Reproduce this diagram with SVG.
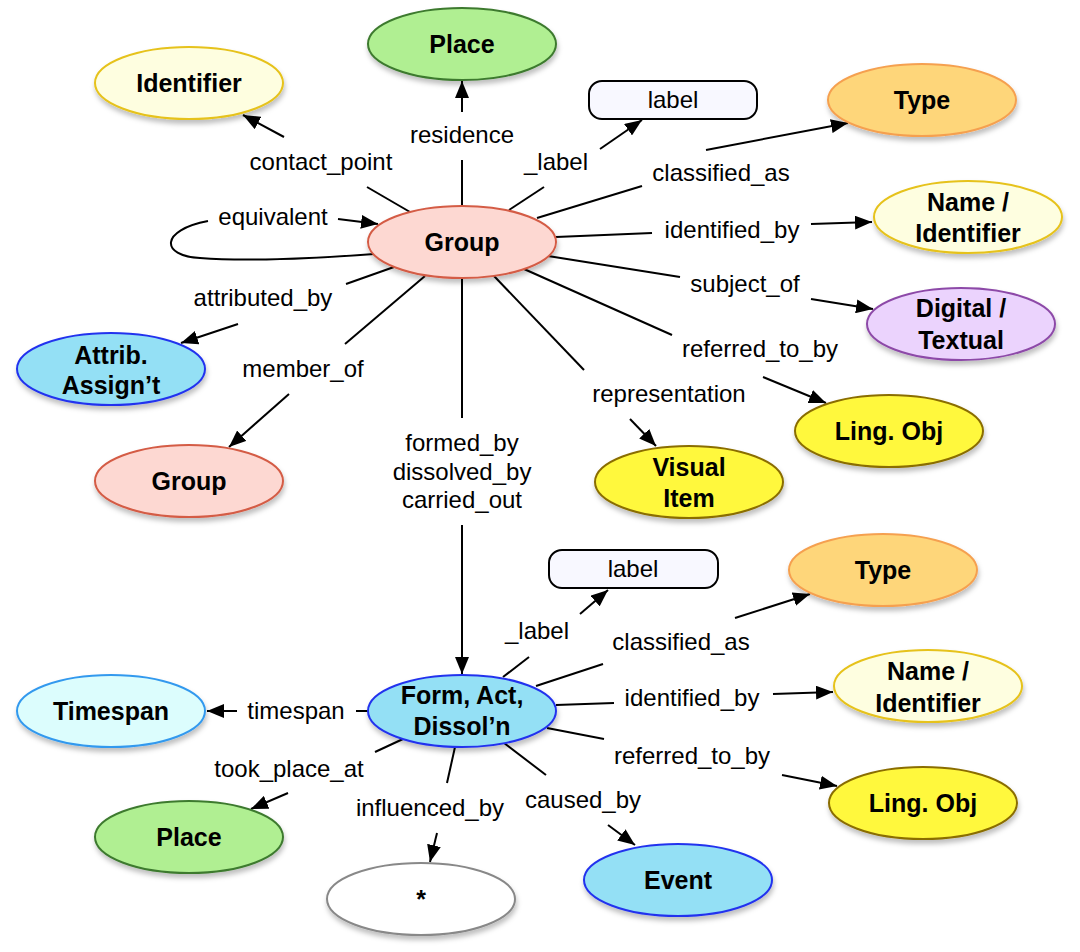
<svg xmlns="http://www.w3.org/2000/svg" width="1080" height="952" viewBox="0 0 1080 952">
<defs>
<filter id="sh" x="-20%" y="-20%" width="140%" height="160%">
<feDropShadow dx="1" dy="4" stdDeviation="2.5" flood-color="#000" flood-opacity="0.25"/>
</filter>
<marker id="ah" markerUnits="userSpaceOnUse" markerWidth="18" markerHeight="14" refX="17" refY="7" orient="auto">
<path d="M0,0 L17,7 L0,14 z" fill="#000"/>
</marker>
</defs>
<style>
.n{stroke-width:2;filter:url(#sh)}
.nt{font-family:"Liberation Sans",Arial,sans-serif;font-weight:bold;font-size:25px;text-anchor:middle;fill:#000}
.et{font-family:"Liberation Sans",Arial,sans-serif;font-size:24px;text-anchor:middle;fill:#000}
.ln{stroke:#000;stroke-width:2;fill:none}
.ar{stroke:#000;stroke-width:2;fill:none;marker-end:url(#ah)}
.grp{fill:#fdd8d2;stroke:#d45b45}
.plc{fill:#b0ef92;stroke:#3d7a2f}
.idn{fill:#fefee0;stroke:#e6c21a}
.typ{fill:#fed67a;stroke:#f5a050}
.dig{fill:#ebd3fd;stroke:#8d4aa8}
.lng{fill:#fff83d;stroke:#8a6d00}
.evt{fill:#94e0f5;stroke:#2233ee}
.tsp{fill:#dcfdfd;stroke:#3399ee}
.any{fill:#fff;stroke:#888}
.lbl{fill:#f8f8ff;stroke:#000;stroke-width:2}
</style>
<rect width="1080" height="952" fill="#fff"/>

<g id="connectors">
<!-- residence -->
<line class="ln" x1="462" y1="206" x2="462" y2="160"/>
<text class="et" x="462" y="143">residence</text>
<line class="ar" x1="462" y1="112" x2="462" y2="81"/>
<!-- contact_point -->
<line class="ln" x1="410" y1="212" x2="367" y2="187"/>
<text class="et" x="321" y="170">contact_point</text>
<line class="ar" x1="284" y1="137" x2="243" y2="115"/>
<!-- equivalent -->
<path class="ln" d="M208,221 C160,230 160,256 200,258 C250,262 320,258 374,254"/>
<text class="et" x="273" y="225">equivalent</text>
<line class="ar" x1="338" y1="219" x2="378" y2="224"/>
<!-- _label -->
<line class="ln" x1="509" y1="210" x2="544" y2="187"/>
<text class="et" x="556" y="170">_label</text>
<line class="ar" x1="600" y1="149" x2="642" y2="120"/>
<!-- classified_as -->
<line class="ln" x1="537" y1="218" x2="642" y2="186"/>
<text class="et" x="721" y="181">classified_as</text>
<line class="ar" x1="706" y1="150" x2="848" y2="123"/>
<!-- identified_by -->
<line class="ln" x1="556" y1="237" x2="652" y2="233"/>
<text class="et" x="732" y="238">identified_by</text>
<line class="ar" x1="811" y1="224" x2="872" y2="222"/>
<!-- subject_of -->
<line class="ln" x1="548" y1="256" x2="680" y2="277"/>
<text class="et" x="745" y="292">subject_of</text>
<line class="ar" x1="811" y1="299" x2="873" y2="309"/>
<!-- referred_to_by -->
<line class="ln" x1="524" y1="269" x2="672" y2="335"/>
<text class="et" x="760" y="357">referred_to_by</text>
<line class="ar" x1="763" y1="377" x2="826" y2="403"/>
<!-- representation -->
<line class="ln" x1="494" y1="276" x2="584" y2="370"/>
<text class="et" x="669" y="402">representation</text>
<line class="ar" x1="630" y1="419" x2="656" y2="446"/>
<!-- formed_by / dissolved_by / carried_out -->
<line class="ln" x1="462" y1="278" x2="462" y2="418"/>
<text class="et" x="462" y="451">formed_by</text>
<text class="et" x="462" y="480">dissolved_by</text>
<text class="et" x="462" y="508">carried_out</text>
<line class="ar" x1="462" y1="525" x2="462" y2="674"/>
<!-- member_of -->
<line class="ln" x1="425" y1="276" x2="345" y2="344"/>
<text class="et" x="303" y="377">member_of</text>
<line class="ar" x1="289" y1="394" x2="229" y2="447"/>
<!-- attributed_by -->
<line class="ln" x1="394" y1="267" x2="346" y2="284"/>
<text class="et" x="263" y="306">attributed_by</text>
<line class="ar" x1="238" y1="324" x2="181" y2="343"/>

<!-- lower: _label -->
<line class="ln" x1="503" y1="677" x2="529" y2="657"/>
<text class="et" x="537" y="639">_label</text>
<line class="ar" x1="580" y1="614" x2="608" y2="590"/>
<!-- lower: classified_as -->
<line class="ln" x1="536" y1="686" x2="603" y2="664"/>
<text class="et" x="681" y="650">classified_as</text>
<line class="ar" x1="735" y1="618" x2="810" y2="594"/>
<!-- lower: identified_by -->
<line class="ln" x1="556" y1="705" x2="614" y2="703"/>
<text class="et" x="692" y="706">identified_by</text>
<line class="ar" x1="773" y1="694" x2="833" y2="692"/>
<!-- lower: referred_to_by -->
<line class="ln" x1="547" y1="728" x2="604" y2="739"/>
<text class="et" x="692" y="764">referred_to_by</text>
<line class="ar" x1="782" y1="775" x2="837" y2="786"/>
<!-- lower: caused_by -->
<line class="ln" x1="504" y1="743" x2="546" y2="775"/>
<text class="et" x="583" y="808">caused_by</text>
<line class="ar" x1="608" y1="825" x2="635" y2="845"/>
<!-- lower: influenced_by -->
<line class="ln" x1="455" y1="747" x2="447" y2="783"/>
<text class="et" x="430" y="816">influenced_by</text>
<line class="ar" x1="437" y1="833" x2="430" y2="862"/>
<!-- lower: took_place_at -->
<line class="ln" x1="403" y1="739" x2="375" y2="752"/>
<text class="et" x="289" y="777">took_place_at</text>
<line class="ar" x1="288" y1="793" x2="251" y2="809"/>
<!-- lower: timespan -->
<line class="ln" x1="369" y1="711" x2="356" y2="711"/>
<text class="et" x="296" y="719">timespan</text>
<line class="ar" x1="237" y1="711" x2="207" y2="711"/>
</g>

<g id="node-group"><ellipse class="n grp" cx="462" cy="242" rx="94" ry="36"/><text class="nt" x="462" y="251">Group</text></g>
<g id="node-place-top"><ellipse class="n plc" cx="462" cy="44" rx="94" ry="36"/><text class="nt" x="462" y="53">Place</text></g>
<g id="node-identifier"><ellipse class="n idn" cx="189" cy="83" rx="94" ry="36"/><text class="nt" x="189" y="92">Identifier</text></g>
<g id="node-label-top"><rect class="lbl" x="589" y="81" width="168" height="38" rx="13"/><text class="et" x="673" y="108">label</text></g>
<g id="node-type-top"><ellipse class="n typ" cx="922" cy="100" rx="94" ry="36"/><text class="nt" x="922" y="109">Type</text></g>
<g id="node-name-top"><ellipse class="n idn" cx="968" cy="217" rx="94" ry="36"/><text class="nt" x="968" y="211">Name /</text><text class="nt" x="968" y="242">Identifier</text></g>
<g id="node-digital"><ellipse class="n dig" cx="961" cy="324" rx="94" ry="36"/><text class="nt" x="961" y="317">Digital /</text><text class="nt" x="961" y="349">Textual</text></g>
<g id="node-ling-top"><ellipse class="n lng" cx="889" cy="431" rx="94" ry="36"/><text class="nt" x="889" y="440">Ling. Obj</text></g>
<g id="node-visual"><ellipse class="n lng" cx="689" cy="482" rx="94" ry="36"/><text class="nt" x="689" y="476">Visual</text><text class="nt" x="689" y="507">Item</text></g>
<g id="node-group-member"><ellipse class="n grp" cx="189" cy="481" rx="94" ry="36"/><text class="nt" x="189" y="490">Group</text></g>
<g id="node-attrib"><ellipse class="n evt" cx="111" cy="369" rx="94" ry="36"/><text class="nt" x="111" y="364">Attrib.</text><text class="nt" x="111" y="394">Assign’t</text></g>
<g id="node-form"><ellipse class="n evt" cx="462" cy="711" rx="94" ry="36"/><text class="nt" x="462" y="704">Form, Act,</text><text class="nt" x="462" y="735">Dissol’n</text></g>
<g id="node-label-low"><rect class="lbl" x="549" y="550" width="169" height="38" rx="13"/><text class="et" x="633" y="577">label</text></g>
<g id="node-type-low"><ellipse class="n typ" cx="883" cy="570" rx="94" ry="36"/><text class="nt" x="883" y="579">Type</text></g>
<g id="node-name-low"><ellipse class="n idn" cx="928" cy="686" rx="94" ry="36"/><text class="nt" x="928" y="680">Name /</text><text class="nt" x="928" y="712">Identifier</text></g>
<g id="node-ling-low"><ellipse class="n lng" cx="923" cy="803" rx="94" ry="36"/><text class="nt" x="923" y="812">Ling. Obj</text></g>
<g id="node-timespan"><ellipse class="n tsp" cx="111" cy="711" rx="94" ry="36"/><text class="nt" x="111" y="720">Timespan</text></g>
<g id="node-place-low"><ellipse class="n plc" cx="189" cy="837" rx="94" ry="36"/><text class="nt" x="189" y="846">Place</text></g>
<g id="node-any"><ellipse class="n any" cx="421" cy="899" rx="94" ry="36"/><text class="nt" x="421" y="908">*</text></g>
<g id="node-event"><ellipse class="n evt" cx="678" cy="880" rx="94" ry="36"/><text class="nt" x="678" y="889">Event</text></g>
</svg>
